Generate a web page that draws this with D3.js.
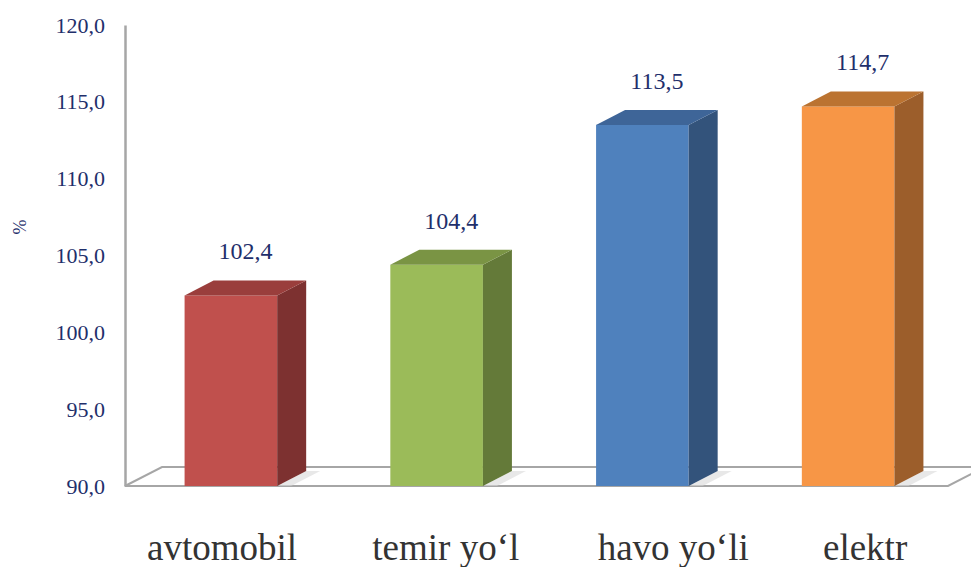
<!DOCTYPE html>
<html>
<head>
<meta charset="utf-8">
<script src="https://cdn.jsdelivr.net/npm/d3@7"></script>
<style>
  body { margin: 0; background: #fff; }
  text { font-family: "Liberation Serif", "Times New Roman", serif; }
</style>
</head>
<body>
<div id="plot"></div>
<script>
var categories = ["avtomobil", "temir yo\u2018l", "havo yo\u2018li", "elektr"];
var values = [102.4, 104.4, 113.5, 114.7];
var valueLabels = ["102,4", "104,4", "113,5", "114,7"];
var tickValues = [90, 95, 100, 105, 110, 115, 120];
var frontColors = ["#c0504d", "#9bbb59", "#4f81bd", "#f79646"];
var sideColors = ["#7d3130", "#647a39", "#33537b", "#9c5e2b"];
var topColors = ["#9a3e3c", "#7a9444", "#3e6598", "#bb7331"];

var width = 971, height = 567;
var plotLeft = 125, plotRight = 948, plotTop = 25, plotBottom = 486;
var floorDx = 37, floorDy = -19, barDx = 29, barDy = -15;

var svg = d3.select("#plot").append("svg")
    .attr("width", width)
    .attr("height", height);

var yScale = d3.scaleLinear().domain([90, 120]).range([plotBottom, plotTop]);
var xScale = d3.scalePoint().domain(categories).range([plotLeft + 3, plotRight + 3]).padding(0.5);
var barW = xScale.step() * 0.45;
var labelScale = d3.scalePoint().domain(categories).range([147, 823]);

// floor
svg.append("path")
    .attr("d", "M" + plotLeft + "," + plotBottom + "L" + plotRight + "," + plotBottom +
        "L" + (plotRight + floorDx) + "," + (plotBottom + floorDy) +
        "L" + (plotLeft + floorDx) + "," + (plotBottom + floorDy) + "Z")
    .style("fill", "#fff")
    .style("stroke", "#a6a6a6")
    .style("stroke-width", 2);

// y axis
var yAxis = d3.axisLeft(yScale).tickValues(tickValues).tickSize(0).tickPadding(20)
    .tickFormat(function (d) { return d3.format(".1f")(d).replace(".", ","); });
var yAxisDraw = svg.append("g")
    .attr("transform", "translate(" + plotLeft + ",0)")
    .call(yAxis);
yAxisDraw.select(".domain").style("stroke", "#a6a6a6").style("stroke-width", 2.5);
yAxisDraw.selectAll("text")
    .style("font-family", "'Liberation Serif', serif")
    .style("font-size", "22px")
    .style("fill", "#1f2f6b");

svg.append("text")
    .attr("transform", "translate(26,227) rotate(-90)")
    .attr("text-anchor", "middle")
    .style("font-size", "18px")
    .style("fill", "#1f2f6b")
    .text("%");

// bars
var bars = svg.selectAll(".bar").data(values).enter().append("g").attr("class", "bar");

bars.each(function (d, i) {
    var g = d3.select(this);
    var x0 = xScale(categories[i]) - barW / 2, x1 = x0 + barW;
    var y0 = yScale(d), y1 = yScale(90);
    // shadow on floor
    g.append("path")
        .attr("d", "M" + x1 + "," + y1 + "L" + (x1 + barDx) + "," + (y1 + barDy) +
            "L" + (x1 + barDx + 14) + "," + (y1 + barDy) + "L" + (x1 + 14) + "," + y1 + "Z")
        .style("fill", "#d9d9d9")
        .style("opacity", 0.6);
    g.append("rect")
        .attr("x", x0).attr("y", y0)
        .attr("width", barW).attr("height", y1 - y0)
        .style("fill", frontColors[i]);
    g.append("path")
        .attr("d", "M" + x1 + "," + y0 + "L" + (x1 + barDx) + "," + (y0 + barDy) +
            "L" + (x1 + barDx) + "," + (y1 + barDy) + "L" + x1 + "," + y1 + "Z")
        .style("fill", sideColors[i]);
    g.append("path")
        .attr("d", "M" + x0 + "," + y0 + "L" + (x0 + barDx) + "," + (y0 + barDy) +
            "L" + (x1 + barDx) + "," + (y0 + barDy) + "L" + x1 + "," + y0 + "Z")
        .style("fill", topColors[i]);
    g.append("text")
        .attr("x", xScale(categories[i]) + barDx / 2)
        .attr("y", y0 + barDy - 21)
        .attr("text-anchor", "middle")
        .style("font-size", "24px")
        .style("fill", "#1f2f6b")
        .text(valueLabels[i]);
});

// category labels
svg.selectAll(".cat").data(categories).enter().append("text")
    .attr("class", "cat")
    .attr("x", function (d) { return labelScale(d); })
    .attr("y", 560)
    .style("font-size", "37px")
    .style("fill", "#333")
    .text(function (d) { return d; });
</script>
</body>
</html>
